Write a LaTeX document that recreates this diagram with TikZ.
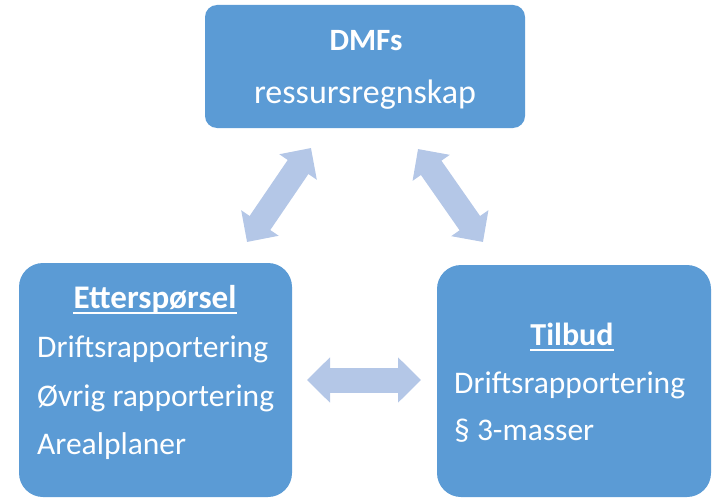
\documentclass[tikz,border=0pt]{standalone}
\usepackage{fontspec}
\setmainfont{Carlito}
\usetikzlibrary{arrows.meta}
\definecolor{boxblue}{RGB}{91,155,213}
\definecolor{linkblue}{RGB}{180,199,231}

\begin{document}
\begin{tikzpicture}[x=1pt, y=-1pt,
    box/.style={fill=boxblue, inner sep=0pt, rounded corners=24pt},
    title/.style={text=white, font=\bfseries\fontsize{32}{38}\selectfont, inner sep=0pt, anchor=base},
    item/.style={text=white, font=\fontsize{31.5}{38}\selectfont, inner sep=0pt, anchor=base west},
    link/.style={linkblue, line width=25pt,
      {Triangle[length=23pt,width=44pt]}-{Triangle[length=23pt,width=44pt]}}]
  \useasboundingbox (0,0) rectangle (714,500);

  % boxes
  \node[box, rounded corners=12pt, minimum width=320pt, minimum height=123pt] (dmf) at (365,66.5) {};
  \node[box, minimum width=273pt, minimum height=234pt] (ett) at (155.5,380) {};
  \node[box, minimum width=274pt, minimum height=232pt] (tilbud) at (574,381) {};

  % texts
  \node[title, font=\bfseries\fontsize{31}{38}\selectfont] (dmfA) at (366,51) {DMFs};
  \node[title, font=\fontsize{34}{40}\selectfont] (dmfB) at (365,104) {ressursregnskap};

  \node[title, font=\bfseries\fontsize{33}{38}\selectfont] (ettA) at (155,308) {Etterspørsel};
  \node[item] (ettB) at (37,357) {Driftsrapportering};
  \node[item] (ettC) at (37,406) {Øvrig rapportering};
  \node[item] (ettD) at (37,454) {Arealplaner};

  \node[title] (tilA) at (572,345) {Tilbud};
  \node[item] (tilB) at (454,393) {Driftsrapportering};
  \node[item] (tilC) at (454,440) {§ 3-masser};

  \draw[white, line width=2pt] ([yshift=-5pt]ettA.base west) -- ([yshift=-5pt]ettA.base east);
  \draw[white, line width=2pt] ([yshift=-5pt]tilA.base west) -- ([yshift=-5pt]tilA.base east);

  % arrows
  \coordinate (l1) at (247,242);
  \coordinate (l2) at (311,148);
  \coordinate (r1) at (418,149);
  \coordinate (r2) at (483,242);
  \coordinate (h1) at (307,380);
  \coordinate (h2) at (421,380);
  \draw[link] (l1) -- (l2);
  \draw[link] (r1) -- (r2);
  \draw[link] (h1) -- (h2);
\end{tikzpicture}
\end{document}
